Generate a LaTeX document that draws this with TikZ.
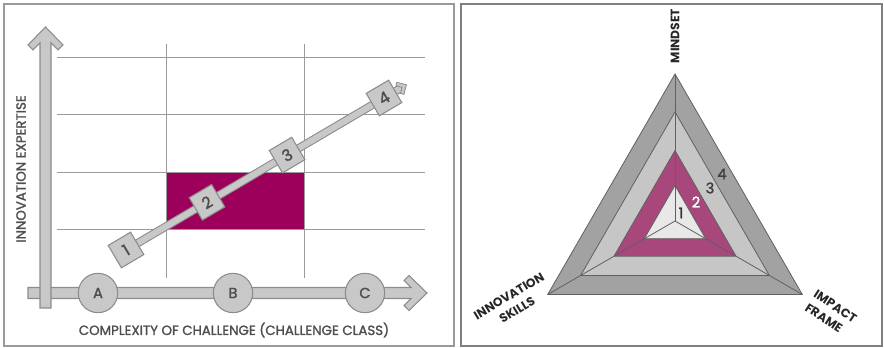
\documentclass[tikz,border=0pt]{standalone}
\usepackage{fontspec}
\setmainfont{Poppins}
\newfontfamily\medfont[FakeBold=1.6]{Poppins}
\usetikzlibrary{calc}

\definecolor{axisfill}{HTML}{C8C8C8}
\definecolor{axisline}{HTML}{8C8C8C}
\definecolor{gridgray}{HTML}{9A9A9A}
\definecolor{labelgray}{HTML}{4E4E4E}
\definecolor{plum}{HTML}{9C005A}
\definecolor{plumlight}{HTML}{A8477B}
\definecolor{bandfour}{HTML}{A2A2A2}
\definecolor{bandthree}{HTML}{C6C6C6}
\definecolor{bandone}{HTML}{E8E8E8}
\definecolor{edgegray}{HTML}{606060}

\begin{document}
\begin{tikzpicture}[x=0.75pt, y=-0.75pt,
    axisshape/.style={fill=axisfill, draw=axisline, line width=0.8pt},
    classdot/.style={circle, fill=axisfill, draw=axisline, line width=0.8pt,
      minimum size=29.5pt, inner sep=0pt, text=labelgray,
      font=\medfont\fontsize{11}{13}\selectfont},
    levelbox/.style={rectangle, rotate=30.5, fill=axisfill, draw=axisline,
      line width=0.8pt, minimum size=19.5pt, inner sep=0pt, text=labelgray,
      font=\medfont\fontsize{12}{14}\selectfont},
    axislabel/.style={text=labelgray, inner sep=0pt, font=\medfont\fontsize{10}{12}\selectfont},
    bandnum/.style={inner sep=0pt, font=\medfont\fontsize{11}{13}\selectfont},
    cornerlabel/.style={text=black!85, inner sep=0pt,
      font=\bfseries\fontsize{9.2}{12}\selectfont}]

  \useasboundingbox (0,0) rectangle (884,348);

  % ---- panel frames ----
  \draw[gridgray, line width=0.9pt] (4,4) rectangle (454,346);
  \draw[edgegray!80, line width=0.9pt] (461,4) rectangle (882,346);

  % ---- left panel: highlighted cell, then grid ----
  \fill[plum] (166,172) rectangle (304,229);
  \foreach \yy in {57,114,172,229} {
    \draw[gridgray, line width=0.6pt] (57,\yy) -- (425,\yy);
  }
  \foreach \xx in {166,304} {
    \draw[gridgray, line width=0.6pt] (\xx,44) -- (\xx,278);
  }

  % ---- axes (bar + open chevron head) ----
  \draw[axisshape] (28,287.5) -- (411.2,287.5) -- (404,280.5) -- (409,275.5)
    -- (427,293) -- (409,310.5) -- (404,305.5) -- (411.2,298.5) -- (28,298.5) -- cycle;
  \draw[axisshape] (40,308) -- (40,42.8) -- (33,50) -- (28,45) -- (45.5,27)
    -- (63,45) -- (58,50) -- (51,42.8) -- (51,308) -- cycle;

  % ---- challenge classes on the x axis ----
  \foreach \xx/\lab in {98/A, 233/B, 365/C} {
    \node[classdot] (cls\lab) at (\xx,293) {\lab};
  }

  % ---- expertise levels along the diagonal ----
  \coordinate (p1) at (126,250);
  \coordinate (p2) at (207,202.3);
  \coordinate (p3) at (287.1,155.1);
  \coordinate (p4) at (384,98);
  \coordinate (diagtip) at (406.4,84.8);
  \draw[axisline, line width=0.8pt, double=axisfill, double distance=4.6pt]
    (p1) -- ($(diagtip)!4pt!(p1)$);
  \begin{scope}[shift={(diagtip)}, rotate=30.5]
    \draw[axisshape, line width=0.6pt] (0,0) -- (-7,-7) -- (-9.5,-4.5) -- (-5,0)
      -- (-9.5,4.5) -- (-7,7) -- cycle;
  \end{scope}
  \foreach \i in {1,...,4} {
    \node[levelbox] (lvl\i) at (p\i) {\i};
  }

  \node[axislabel, rotate=90] (ylab) at (21,169) {INNOVATION EXPERTISE};
  \node[axislabel] (xlab) at (234,330) {COMPLEXITY OF CHALLENGE (CHALLENGE CLASS)};

  % ---- right panel: nested triangles around the centre ----
  \coordinate (ctr) at (675,221);
  \foreach \r/\col in {147/bandfour, 109/bandthree, 70.5/plumlight, 35.5/bandone} {
    \filldraw[fill=\col, draw=edgegray, line width=0.6pt]
      ($(ctr)+(-90:\r)$) -- ($(ctr)+(30:\r)$) -- ($(ctr)+(150:\r)$) -- cycle;
  }
  \foreach \a in {-90,30,150} {
    \draw[edgegray, line width=0.6pt] (ctr) -- ($(ctr)+(\a:147)$);
  }

  % ---- band numbers ----
  \node[bandnum, text=black!75] (num4) at (722,174) {4};
  \node[bandnum, text=black!75] (num3) at (710,188) {3};
  \node[bandnum, text=white] (num2) at (696,202) {2};
  \node[bandnum, text=black!80] (num1) at (681,213) {1};

  % ---- corner labels ----
  \node[cornerlabel, rotate=90] (mindset) at (675,36) {MINDSET};
  \node[cornerlabel, rotate=31, align=center] (skills) at (513,303) {INNOVATION\\SKILLS};
  \node[cornerlabel, rotate=-33, align=left] (impact) at (831,313) {IMPACT\\FRAME};

\end{tikzpicture}
\end{document}
